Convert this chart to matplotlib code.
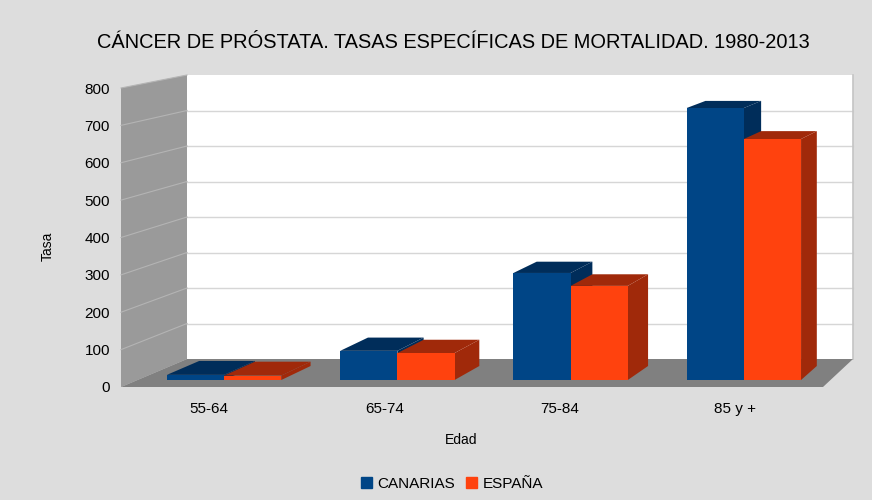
import matplotlib
matplotlib.use("Agg")
import matplotlib.pyplot as plt
from matplotlib.patches import Polygon, Patch
from matplotlib.transforms import Affine2D, IdentityTransform
import numpy as np

plt.rcParams['font.family'] = ['Liberation Sans', 'DejaVu Sans']

categories = ["55-64", "65-74", "75-84", "85 y +"]
canarias = [14, 79, 290, 737]
espana = [12, 73, 255, 653]
series_names = ["CANARIAS", "ESPAÑA"]
yticks = [0, 100, 200, 300, 400, 500, 600, 700, 800]

front_colors = ["#004586", "#ff420e"]
dark_colors = ["#002d5a", "#a0290a"]

W, H = 872, 500
fig = plt.figure(figsize=(W / 100, H / 100), dpi=100, facecolor="#dddddd")
# front plane of the 3D box
ax = fig.add_axes([121 / W, 113 / H, 702 / W, 299 / H])
ax.set_xlim(-0.5, 3.5)
ax.set_ylim(0, 800)
ax.patch.set_visible(False)
for sp in ax.spines.values():
    sp.set_visible(False)

# perspective depth mapping: front plane -> back plane (display pixels)
sx, sy = 666 / 702, 284 / 299
bx, by = 187 - 121 * sx, 141 - 113 * sy


def depth_tr(d):
    m = np.array([[1 - d + d * sx, 0, d * bx],
                  [0, 1 - d + d * sy, d * by],
                  [0, 0, 1]])
    return ax.transData + Affine2D(m)


def pts(points):
    # points: list of (x, v, d)
    return [depth_tr(d).transform((x, v)) for x, v, d in points]


def add_poly(points, color, z, lw=0, ec=None):
    p = Polygon(pts(points), closed=True, facecolor=color, edgecolor=ec or color,
                linewidth=lw, transform=IdentityTransform(), clip_on=False, zorder=z)
    ax.add_patch(p)


x0, x1 = -0.5, 3.5
vmax = yticks[-1]
# back wall
add_poly([(x0, 0, 1), (x1, 0, 1), (x1, vmax, 1), (x0, vmax, 1)], "white", 0)
# left wall
add_poly([(x0, 0, 0), (x0, vmax, 0), (x0, vmax, 1), (x0, 0, 1)], "#9a9a9a", 0)
# floor
add_poly([(x0, 0, 0), (x1, 0, 0), (x1, 0, 1), (x0, 0, 1)], "#808080", 1)

for v in yticks[1:-1]:
    a, b = pts([(x0, v, 1), (x1, v, 1)])
    ax.plot([a[0], b[0]], [a[1], b[1]], color="#d6d6d6", lw=1, transform=IdentityTransform(),
            clip_on=False, zorder=0.5)
for v in yticks[1:]:
    a, b = pts([(x0, v, 0), (x0, v, 1)])
    ax.plot([a[0], b[0]], [a[1], b[1]], color="#b4b4b4", lw=0.8, transform=IdentityTransform(),
            clip_on=False, zorder=0.5)
a, b = pts([(x1, 0, 1), (x1, vmax, 1)])
ax.plot([a[0], b[0]], [a[1], b[1]], color="#c4c4c4", lw=1.2, transform=IdentityTransform(),
        clip_on=False, zorder=0.5)

# bars
w = 0.33
d0, d1 = 0.25, 0.75
z = 2
for i in range(len(categories)):
    for s, vals in enumerate([canarias, espana]):
        v = vals[i]
        xa = i - w + s * w
        xb = xa + w
        add_poly([(xb, 0, d0), (xb, v, d0), (xb, v, d1), (xb, 0, d1)], dark_colors[s], z)
        add_poly([(xa, v, d0), (xb, v, d0), (xb, v, d1), (xa, v, d1)], dark_colors[s], z + 0.1)
        add_poly([(xa, 0, d0), (xb, 0, d0), (xb, v, d0), (xa, v, d0)], front_colors[s], z + 0.2)
        z += 1

ax.set_yticks(yticks)
ax.set_yticklabels([str(t) for t in yticks], fontsize=11)
ax.set_xticks(range(len(categories)))
ax.set_xticklabels(categories, fontsize=11)
ax.tick_params(axis='y', length=0, pad=8)
ax.tick_params(axis='x', length=0, pad=11)

fig.text(453.5 / W, 1 - 42 / H, "CÁNCER DE PRÓSTATA. TASAS ESPECÍFICAS DE MORTALIDAD. 1980-2013",
         ha='center', va='center', fontsize=14.4)
fig.text(48 / W, 1 - 246 / H, "Tasa", rotation=90, ha='center', va='center', fontsize=10)
fig.text(461 / W, 1 - 440 / H, "Edad", ha='center', va='center', fontsize=10)

handles = [Patch(facecolor=c, edgecolor=c) for c in front_colors]
fig.legend(handles, series_names, loc='center', bbox_to_anchor=(452 / W, 1 - 484 / H), ncol=2,
           frameon=False, fontsize=11, handlelength=0.75, handleheight=0.75,
           handletextpad=0.35, columnspacing=0.7)

fig.savefig("out.png", dpi=100, facecolor=fig.get_facecolor())
